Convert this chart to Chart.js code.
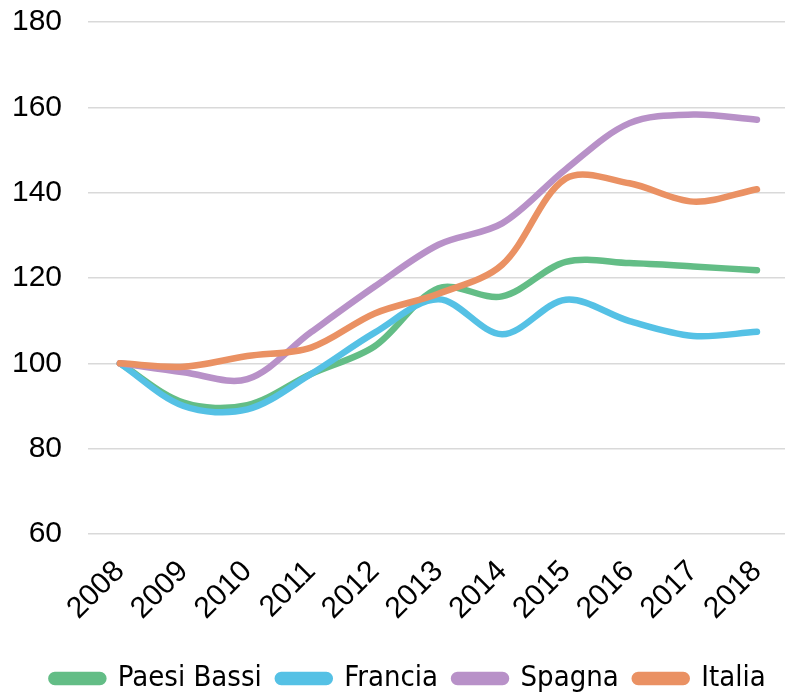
<!DOCTYPE html>
<html>
<head>
<meta charset="utf-8">
<script src="https://cdn.jsdelivr.net/npm/chart.js@4/dist/chart.umd.min.js"></script>
<style>
  html, body { margin: 0; padding: 0; background: #ffffff; }
  #wrap { width: 785px; height: 693px; position: relative; }
</style>
</head>
<body>
<div id="wrap"><canvas id="c" width="785" height="693"></canvas></div>
<script>
const years = [2008, 2009, 2010, 2011, 2012, 2013, 2014, 2015, 2016, 2017, 2018];
const yTicks = [60, 80, 100, 120, 140, 160, 180];
const paesiBassi = [100, 90.8, 90.2, 97.5, 104.0, 117.6, 115.7, 123.8, 123.5, 122.7, 121.8];
const francia    = [100, 90.0, 89.2, 97.5, 107.2, 115.0, 106.8, 114.9, 109.9, 106.4, 107.4];
const spagna     = [100, 97.9, 96.3, 107.3, 118.0, 127.8, 132.8, 145.5, 156.3, 158.3, 157.1];
const italia     = [100, 99.2, 101.7, 103.7, 111.7, 116.3, 123.1, 143.3, 142.2, 137.9, 140.8];

const toXY = arr => arr.map((v, i) => ({ x: years[i], y: v }));

const series = [
  { label: 'Paesi Bassi', data: paesiBassi, color: '#63BD86', order: 4 },
  { label: 'Francia',     data: francia,    color: '#55C1E5', order: 3 },
  { label: 'Spagna',      data: spagna,     color: '#B891C8', order: 2 },
  { label: 'Italia',      data: italia,     color: '#EA9163', order: 1 }
];

const tickFont = { family: "'Liberation Sans', Arial, sans-serif", size: 30 };

new Chart(document.getElementById('c'), {
  type: 'line',
  data: {
    datasets: series.map(s => ({
      label: s.label,
      data: toXY(s.data),
      borderColor: s.color,
      backgroundColor: s.color,
      borderWidth: 6.5,
      pointRadius: 0,
      tension: 0.33,
      borderCapStyle: 'round',
      borderJoinStyle: 'round',
      fill: false,
      order: s.order
    }))
  },
  options: {
    responsive: false,
    animation: false,
    layout: { padding: { left: 12, right: -20, top: 22, bottom: -10 } },
    plugins: {
      legend: {
        position: 'bottom',
        labels: {
          sort: (a, b) => a.datasetIndex - b.datasetIndex,
          boxWidth: 52,
          boxHeight: 7,
          useBorderRadius: true,
          borderRadius: 3.5,
          padding: 16,
          color: '#000000',
          font: { family: "'DejaVu Sans Condensed', 'Liberation Sans Narrow', sans-serif", size: 29 }
        }
      },
      tooltip: { enabled: false }
    },
    scales: {
      x: {
        type: 'linear',
        min: 2007.5,
        max: 2018.44,
        afterBuildTicks: scale => { scale.ticks = years.map(v => ({ value: v })); },
        afterFit: scale => { scale.height = 114; scale.paddingLeft = 0; scale.paddingRight = 0; },
        grid: { display: false },
        border: { display: false },
        ticks: {
          minRotation: 45,
          maxRotation: 45,
          autoSkip: false,
          padding: 12,
          color: '#000000',
          font: tickFont,
          callback: v => String(v)
        }
      },
      y: {
        min: 60,
        max: 180,
        afterBuildTicks: scale => { scale.ticks = yTicks.map(v => ({ value: v })); },
        afterFit: scale => { scale.width = 76; scale.paddingTop = 0; scale.paddingBottom = 0; },
        grid: { color: '#D9D9D9', lineWidth: 1.5, drawTicks: false },
        border: { display: false },
        ticks: {
          padding: 26,
          color: '#000000',
          font: tickFont
        }
      }
    }
  }
});
</script>
</body>
</html>
